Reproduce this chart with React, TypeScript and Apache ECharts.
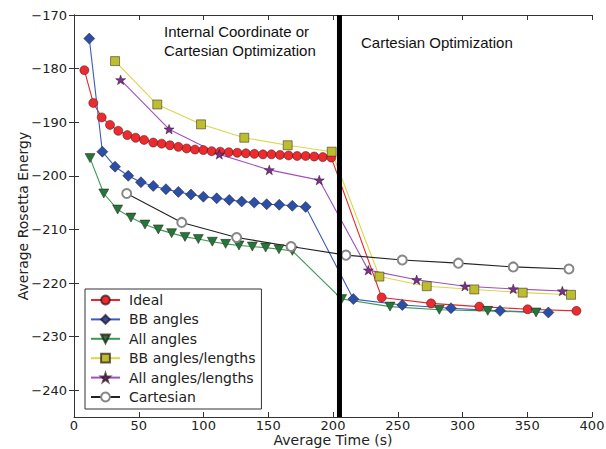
import React, { useEffect, useRef } from "react";
import * as echarts from "echarts";

const seriesNames = ["Ideal", "BB angles", "All angles", "BB angles/lengths", "All angles/lengths", "Cartesian"];

const idealX = [8, 14.9, 21.4, 27.8, 34.2, 41.2, 47.6, 54.1, 61.2, 67.7, 74.1, 80.6, 87, 93.4, 99.9, 106.3, 112.9, 119.5, 126.1, 132.7, 139.3, 145.9, 152.5, 159.1, 165.7, 172.3, 178.9, 185.5, 192.1, 198.7, 237.6, 275.7, 313, 350.3, 388];
const idealY = [-180.3, -186.4, -189.1, -190.5, -191.6, -192.4, -192.9, -193.3, -193.8, -194.0, -194.3, -194.6, -194.9, -195.1, -195.2, -195.4, -195.5, -195.6, -195.7, -195.8, -195.9, -196.0, -196.0, -196.1, -196.2, -196.3, -196.3, -196.4, -196.5, -196.6, -222.7, -223.8, -224.4, -224.9, -225.2];

const bbX = [11.8, 21.9, 31.7, 41.9, 51.7, 61.2, 71, 80.6, 90.3, 99.9, 110.2, 119.9, 129.5, 139.2, 148.8, 158.5, 168.6, 178.9, 215.7, 253.5, 291.1, 329, 366.3];
const bbY = [-174.4, -195.5, -198.3, -200.0, -201.2, -201.9, -202.5, -203.0, -203.5, -203.9, -204.2, -204.5, -204.8, -205.0, -205.3, -205.4, -205.6, -205.8, -223.0, -224.1, -224.7, -225.2, -225.5];

const allX = [12.4, 23, 33.7, 44, 54.8, 65.1, 75.4, 85.7, 96, 106.8, 117.1, 127.4, 137.7, 148, 158.3, 168.6, 206.7, 244, 282.1, 319.5, 356.8];
const allY = [-196.7, -203.3, -206.3, -207.8, -209.1, -210.0, -210.7, -211.4, -211.8, -212.3, -212.7, -213.0, -213.2, -213.4, -213.7, -214.0, -223.0, -224.4, -225.0, -225.2, -225.5];

const bbLenX = [31.7, 64.3, 98.1, 131.5, 165, 199, 235.8, 272.4, 309.1, 346.5, 383.8];
const bbLenY = [-178.6, -186.7, -190.4, -192.9, -194.3, -195.5, -218.8, -220.6, -221.2, -221.8, -222.2];

const allLenX = [36, 73.4, 112.2, 150.8, 189.4, 227.3, 264.6, 301.9, 339.2, 377.1];
const allLenY = [-182.1, -191.3, -196.0, -198.9, -200.8, -217.6, -219.4, -220.6, -221.1, -221.5];

const cartX = [40.7, 83.2, 125.6, 167.6, 210, 253.5, 296.8, 339.2, 382.2];
const cartY = [-203.3, -208.7, -211.5, -213.2, -214.8, -215.7, -216.3, -217.0, -217.4];

const phaseBoundary = 205;
const xTicks = [0, 50, 100, 150, 200, 250, 300, 350, 400];
const yTicks = [-240, -230, -220, -210, -200, -190, -180, -170];

const STAR = "path://M0,-10 L2.35,-3.24 L9.51,-3.09 L3.8,1.24 L5.88,8.09 L0,4 L-5.88,8.09 L-3.8,1.24 L-9.51,-3.09 L-2.35,-3.24 Z";

const zip = (xs: number[], ys: number[]) => xs.map((x, i) => [x, ys[i]]);
const fmt = (v: number) => String(v).replace("-", "\u2212");
const FONT = "DejaVu Sans";

export default function App() {
  const ref = useRef<HTMLDivElement>(null);
  useEffect(() => {
    if (!ref.current) return;
    const chart = echarts.init(ref.current, null, { renderer: "svg" });
    const edge = { borderColor: "rgba(40,20,20,0.7)", borderWidth: 0.7 };
    const mk = (name: string, xs: number[], ys: number[], line: string, fill: string, symbol: string, size: any, extra: any = {}) => ({
      name,
      type: "line",
      data: zip(xs, ys),
      symbol,
      symbolSize: size,
      showSymbol: true,
      lineStyle: { color: line, width: 1.1 },
      itemStyle: { color: fill, ...edge },
      emphasis: { disabled: true },
      ...extra,
    });
    chart.setOption({
      animation: false,
      backgroundColor: "#fff",
      grid: { left: 74, right: 14, top: 15, bottom: 32, outerBoundsMode: "none" },
      xAxis: [
        {
          type: "value", min: 0, max: 400,
          name: "Average Time (s)", nameLocation: "middle", nameGap: 16, nameMoveOverlap: false,
          nameTextStyle: { fontFamily: FONT, fontSize: 14, lineHeight: 14, color: "#222" },
          axisLine: { show: true, lineStyle: { color: "#333", width: 1 } },
          axisTick: { show: true, inside: true, length: 5, customValues: xTicks, lineStyle: { color: "#333" } },
          axisLabel: { customValues: xTicks, margin: 2, fontFamily: FONT, fontSize: 13, lineHeight: 13, color: "#222", formatter: fmt },
          splitLine: { show: false },
        },
        {
          type: "value", min: 0, max: 400, position: "top",
          axisLine: { show: true, lineStyle: { color: "#333", width: 1 } },
          axisTick: { show: true, inside: true, length: 5, customValues: xTicks, lineStyle: { color: "#333" } },
          axisLabel: { show: false },
          splitLine: { show: false },
        },
      ],
      yAxis: [
        {
          type: "value", min: -245, max: -170,
          name: "Average Rosetta Energy", nameLocation: "middle", nameGap: 44, nameMoveOverlap: false,
          nameTextStyle: { fontFamily: FONT, fontSize: 14, color: "#222" },
          axisLine: { show: true, lineStyle: { color: "#333", width: 1 } },
          axisTick: { show: true, inside: true, length: 5, customValues: yTicks, lineStyle: { color: "#333" } },
          axisLabel: { customValues: yTicks, margin: 7, fontFamily: FONT, fontSize: 13, color: "#222", formatter: fmt },
          splitLine: { show: false },
        },
        {
          type: "value", min: -245, max: -170, position: "right",
          axisLine: { show: true, lineStyle: { color: "#333", width: 1 } },
          axisTick: { show: true, inside: true, length: 5, customValues: yTicks, lineStyle: { color: "#333" } },
          axisLabel: { show: false },
          splitLine: { show: false },
        },
      ],
      legend: {
        orient: "vertical", left: 85, top: 289,
        padding: [4, 6, 5, 5],
        backgroundColor: "#fff", borderColor: "#333", borderWidth: 1,
        itemWidth: 29, itemHeight: 11, itemGap: 5.4,
        textStyle: { fontFamily: FONT, fontSize: 14, lineHeight: 14, color: "#222", padding: [0, 0, 0, 4] },
        data: seriesNames,
      },
      graphic: [
        { type: "text", x: 164, y: 31, style: { text: "Internal Coordinate or", font: '15px "Liberation Sans"', fill: "#111", verticalAlign: "middle" } },
        { type: "text", x: 164, y: 50, style: { text: "Cartesian Optimization", font: '15px "Liberation Sans"', fill: "#111", verticalAlign: "middle" } },
        { type: "text", x: 361, y: 42, style: { text: "Cartesian Optimization", font: '15px "Liberation Sans"', fill: "#111", verticalAlign: "middle" } },
      ],
      series: [
        mk(seriesNames[0], idealX, idealY, "#e8262b", "#ee2a2e", "circle", 9),
        mk(seriesNames[1], bbX, bbY, "#3a5cc0", "#2a4fa8", "diamond", [11, 11]),
        mk(seriesNames[2], allX, allY, "#3a9a50", "#23773a", "triangle", [10, 9], { symbolRotate: 180 }),
        mk(seriesNames[3], bbLenX, bbLenY, "#d8d84a", "#bdbd30", "rect", 9),
        mk(seriesNames[4], allLenX, allLenY, "#a050c0", "#7d2f91", STAR, 10, { symbolKeepAspect: true }),
        {
          name: seriesNames[5], type: "line", data: zip(cartX, cartY),
          symbol: "emptyCircle", symbolSize: 9,
          lineStyle: { color: "#222", width: 1.1 },
          itemStyle: { color: "#888", borderColor: "#888", borderWidth: 1 },
          emphasis: { disabled: true },
        },
        {
          name: "boundary", type: "line", data: [[phaseBoundary, -170], [phaseBoundary, -245]],
          symbol: "none", lineStyle: { color: "#000", width: 5 }, z: 5,
          emphasis: { disabled: true }, silent: true,
        },
      ],
    });
    return () => chart.dispose();
  }, []);
  return <div ref={ref} style={{ position: "fixed", left: 0, top: 0, width: 606, height: 449 }} />;
}
